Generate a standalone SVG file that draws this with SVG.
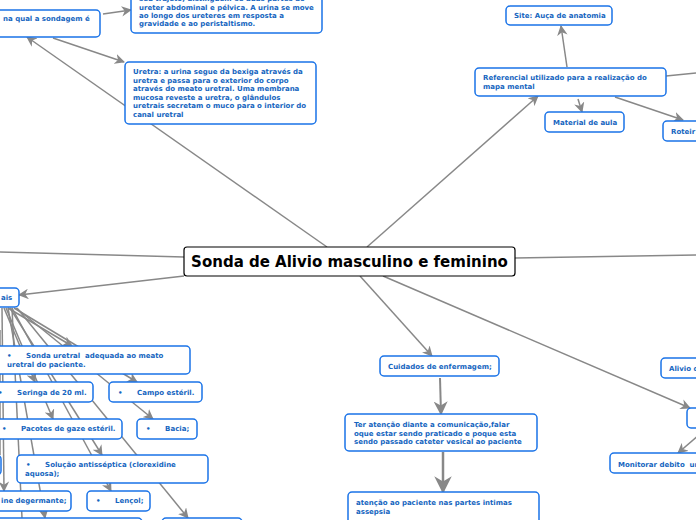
<svg xmlns="http://www.w3.org/2000/svg" width="696" height="520" viewBox="0 0 696 520">
<defs>
<marker id="ah" viewBox="0 0 10 10" refX="9" refY="5" markerWidth="7" markerHeight="7" orient="auto-start-reverse"><path d="M0,0 L10,5 L0,10 L3,5 z" fill="#888"/></marker>
<style>
.n{fill:#fff;stroke:#1a73e8;stroke-width:1.5}
.t{font-family:"DejaVu Sans",Verdana,sans-serif;font-weight:bold;font-size:7px;fill:#1565c0;white-space:pre}
.c line{stroke:#888;stroke-width:1.5}
.a{marker-end:url(#ah)}
</style>
</defs>
<rect width="696" height="520" fill="#fff"/>
<g class="c">
<line class="a" x1="327" y1="247" x2="27" y2="37"/>
<line class="a" x1="53" y1="38" x2="124" y2="62"/>
<line class="a" x1="103" y1="14" x2="131" y2="10"/>
<line class="a" x1="367" y1="247" x2="538" y2="96"/>
<line class="a" x1="567" y1="67" x2="561" y2="26"/>
<line class="a" x1="578" y1="99" x2="582" y2="112"/>
<line class="a" x1="615" y1="97" x2="683" y2="120"/>
<line x1="666" y1="76" x2="696" y2="73"/>
<line x1="515" y1="258" x2="696" y2="255"/>
<line x1="184" y1="257" x2="0" y2="252"/>
<line class="a" x1="184" y1="276" x2="19" y2="295"/>
<line class="a" x1="360" y1="276" x2="432" y2="356"/>
<line class="a" x1="383" y1="276" x2="690" y2="408"/>
<line class="a" x1="440" y1="378" x2="441" y2="414" style="stroke-width:2"/>
<line class="a" x1="443" y1="452" x2="443" y2="492" style="stroke-width:2.5"/>
<line class="a" x1="707" y1="428" x2="678" y2="453"/>
<line class="a" x1="8" y1="308" x2="72" y2="346"/>
<line class="a" x1="4" y1="308" x2="35" y2="382"/>
<line class="a" x1="14" y1="308" x2="137" y2="382"/>
<line class="a" x1="6" y1="308" x2="53" y2="419"/>
<line class="a" x1="16" y1="308" x2="153" y2="419"/>
<line class="a" x1="10" y1="308" x2="102" y2="455"/>
<line class="a" x1="2" y1="308" x2="4" y2="491"/>
<line class="a" x1="12" y1="308" x2="111" y2="491"/>
<line class="a" x1="8" y1="308" x2="45" y2="518"/>
<line class="a" x1="17" y1="308" x2="188" y2="518"/>
<line x1="0" y1="330" x2="0" y2="455"/>
<line x1="12" y1="308" x2="22" y2="518"/>
</g>
<g id="center"><rect x="184" y="247" width="331" height="29" rx="3" fill="#fff" stroke="#000" stroke-width="1.2"/><text x="349.5" y="267" text-anchor="middle" style="font-family:'DejaVu Sans',Verdana,sans-serif;font-weight:bold;font-size:15px">Sonda de Alivio masculino e feminino</text></g>
<g id="nA"><rect class="n" x="-10" y="10" width="110" height="27" rx="4"/><text class="t" x="3" y="21">na qual a sondagem é</text></g>
<g id="nB"><rect class="n" x="131" y="-10" width="191" height="43" rx="4"/><text class="t" x="139" y="1">seu trajeto, distinguem-se duas partes do</text><text class="t" x="139" y="10">ureter abdominal e pélvica. A urina se move</text><text class="t" x="139" y="18">ao longo dos ureteres em resposta a</text><text class="t" x="139" y="26">gravidade e ao peristaltismo.</text></g>
<g id="nC"><rect class="n" x="125" y="62" width="191" height="62" rx="4"/><text class="t" x="133" y="74">Uretra: a urina segue da bexiga através da</text><text class="t" x="133" y="83">uretra e passa para o exterior do corpo</text><text class="t" x="133" y="91">através do meato uretral. Uma membrana</text><text class="t" x="133" y="100">mucosa reveste a uretra, o glândulos</text><text class="t" x="133" y="108">uretrais secretam o muco para o interior do</text><text class="t" x="133" y="117">canal uretral</text></g>
<g id="site"><rect class="n" x="506" y="6" width="106" height="19" rx="4"/><text class="t" x="514" y="18">Site: Auça de anatomia</text></g>
<g id="ref"><rect class="n" x="475" y="68" width="191" height="28" rx="4"/><text class="t" x="483" y="80">Referencial utilizado para a realização do</text><text class="t" x="483" y="89">mapa mental</text></g>
<g id="mat"><rect class="n" x="545" y="112" width="79" height="20" rx="4"/><text class="t" x="553" y="125">Material de aula</text></g>
<g id="rot"><rect class="n" x="663" y="121" width="60" height="20" rx="4"/><text class="t" x="671" y="134">Roteir</text></g>
<g id="aliv"><rect class="n" x="661" y="358" width="60" height="20" rx="4"/><text class="t" x="669" y="371">Alivio d</text></g>
<g id="hid"><rect class="n" x="687" y="408" width="30" height="20" rx="4"/></g>
<g id="mon"><rect class="n" x="610" y="453" width="110" height="20" rx="4"/><text class="t" x="618" y="467">Monitorar debito  ur</text></g>
<g id="cuid"><rect class="n" x="380" y="356" width="119" height="20" rx="4"/><text class="t" x="388" y="369">Cuidados de enfermagem;</text></g>
<g id="ter"><rect class="n" x="345" y="414" width="192" height="37" rx="4"/><text class="t" x="354" y="427">Ter atenção diante a comunicação,falar</text><text class="t" x="354" y="436">oque estar sendo praticado e poque esta</text><text class="t" x="354" y="444">sendo passado cateter vesical ao paciente</text></g>
<g id="aten"><rect class="n" x="348" y="492" width="191" height="35" rx="4"/><text class="t" x="356" y="505">atenção ao paciente nas partes intimas</text><text class="t" x="356" y="514">assepsia</text></g>
<g id="mats"><rect class="n" x="-10" y="288" width="29" height="19" rx="4"/><text class="t" x="1" y="300">ais</text></g>
<g id="sonda"><rect class="n" x="-5" y="346" width="195" height="28" rx="4"/><text class="t" x="7" y="358">•      Sonda uretral  adequada ao meato</text><text class="t" x="7" y="367">uretral do paciente.</text></g>
<g id="ser"><rect class="n" x="-10" y="382" width="103" height="20" rx="4"/><text class="t" x="-2" y="395">•      Seringa de 20 ml.</text></g>
<g id="campo"><rect class="n" x="109" y="382" width="93" height="20" rx="4"/><text class="t" x="118" y="395">•      Campo estéril.</text></g>
<g id="pac"><rect class="n" x="-10" y="419" width="132" height="20" rx="4"/><text class="t" x="2" y="431">•      Pacotes de gaze estéril.</text></g>
<g id="bacia"><rect class="n" x="137" y="419" width="60" height="20" rx="4"/><text class="t" x="146" y="431">•      Bacia;</text></g>
<g id="small"><rect class="n" x="-10" y="455" width="11" height="20" rx="4"/></g>
<g id="sol"><rect class="n" x="17" y="455" width="191" height="28" rx="4"/><text class="t" x="26" y="467">•      Solução antisséptica (clorexidine</text><text class="t" x="25" y="476">aquosa);</text></g>
<g id="deg"><rect class="n" x="-10" y="491" width="81" height="20" rx="4"/><text class="t" x="1" y="503">ine degermante;</text></g>
<g id="lenc"><rect class="n" x="87" y="491" width="63" height="20" rx="4"/><text class="t" x="96" y="503">•      Lençol;</text></g>
<g id="b1"><rect class="n" x="-10" y="518" width="152" height="20" rx="4"/></g>
<g id="b2"><rect class="n" x="162" y="518" width="80" height="20" rx="4"/></g>
</svg>
